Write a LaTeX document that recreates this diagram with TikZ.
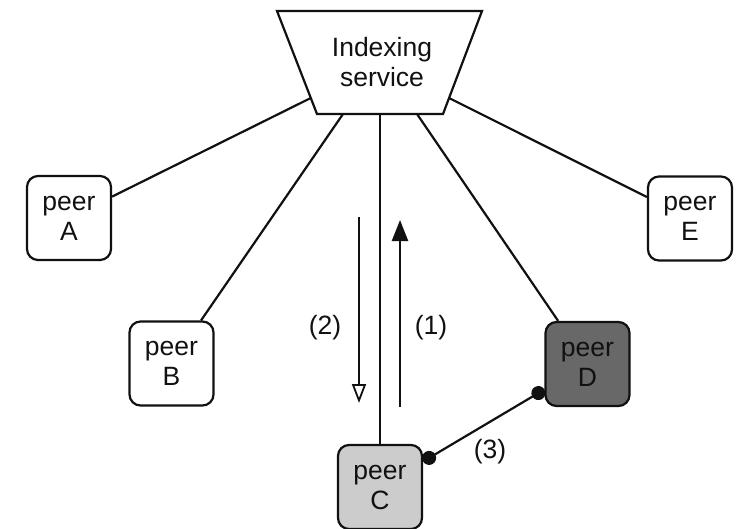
\documentclass[tikz,border=0pt]{standalone}
\usepackage{fontspec}
\setmainfont{Liberation Sans}
\usetikzlibrary{arrows.meta}
\definecolor{lightpeer}{HTML}{CCCCCC}
\definecolor{darkpeer}{HTML}{686868}
\definecolor{ink}{HTML}{111111}
\begin{document}
\begin{tikzpicture}[x=1pt,y=-1pt,
  peer/.style={draw=ink, line width=2.2pt, rounded corners=11pt, minimum width=84pt, minimum height=84pt, align=center, inner sep=0pt, font=\fontsize{26.5}{30}\selectfont, text=ink},
  conn/.style={draw=ink, line width=2.2pt},
  lbl/.style={font=\fontsize{26.5}{30}\selectfont, text=ink}]
\useasboundingbox (0,0) rectangle (738,529);
% indexing service
\draw[conn, line join=miter] (277,11) -- (482,11) -- (443,114) -- (317,114) -- cycle;
\node[lbl, align=center] (idx) at (382,62) {Indexing\\service};
\coordinate (ta) at (310.8,98);
\coordinate (tb) at (343,114);
\coordinate (tc) at (380,114);
\coordinate (td) at (417,114);
\coordinate (te) at (449,98);
% peers
\node[peer] (A) at (69,218) {peer\\A};
\node[peer] (B) at (171.5,363.5) {peer\\B};
\node[peer, fill=lightpeer] (C) at (380,487) {peer\\C};
\node[peer, fill=darkpeer] (D) at (587.5,364) {peer\\D};
\node[peer] (E) at (690,218.5) {peer\\E};
% connectors
\draw[conn] (ta) -- (A);
\draw[conn] (tb) -- (B);
\draw[conn] (tc) -- (tc |- C.north);
\draw[conn] (td) -- (D);
\draw[conn] (te) -- (E);
\draw[conn, {Circle[length=14pt]}-{Circle[length=14pt]}] (C) -- (D);
% request / reply arrows
\coordinate (r2s) at (359,217);
\coordinate (r2e) at (359,403);
\coordinate (r1s) at (400,407);
\coordinate (r1e) at (400,220);
\draw[conn, -{Triangle[open, length=19pt, width=14pt, line width=1.8pt]}] (r2s) -- (r2e);
\draw[conn, -{Triangle[length=21pt, width=16pt]}] (r1s) -- (r1e);
\node[lbl] (l2) at (325,328) {(2)};
\node[lbl] (l1) at (431,328) {(1)};
\node[lbl] (l3) at (490,452) {(3)};
\end{tikzpicture}
\end{document}
